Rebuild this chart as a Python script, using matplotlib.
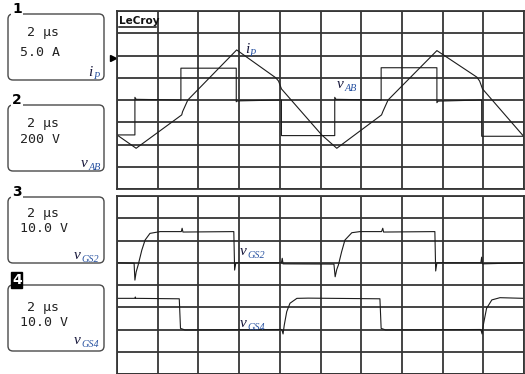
import matplotlib
matplotlib.use("Agg")
import matplotlib.pyplot as plt
from matplotlib.patches import FancyBboxPatch

# Screen coordinates in divisions: 10 across, 8 high per panel (2 us/div)
# ch1: primary current i_P (5 A/div)
ip_t = [0.00, 0.47, 1.59, 1.61, 1.74, 2.94, 3.90, 3.97, 4.04, 5.03,
        5.40, 6.50, 6.53, 6.66, 7.86, 8.84, 8.91, 8.98, 10.0]
ip_v = [2.43, 1.83, 3.33, 3.47, 4.00, 6.25, 5.00, 4.85, 4.50, 2.43,
        1.83, 3.33, 3.47, 4.00, 6.22, 5.03, 4.85, 4.50, 2.35]

# ch2: bridge voltage v_AB (200 V/div)
vab_t = [0.00, 0.44, 0.44, 0.47, 1.57, 1.57, 2.93, 2.93, 2.96, 4.04, 4.04,
         5.35, 5.35, 5.38, 6.49, 6.49, 7.86, 7.86, 7.89, 8.96, 8.96, 10.0]
vab_v = [2.43, 2.43, 4.12, 4.03, 4.00, 5.43, 5.43, 3.92, 3.96, 4.00, 2.40,
         2.40, 4.12, 4.03, 4.00, 5.45, 5.45, 3.88, 3.95, 4.00, 2.37, 2.37]

# ch3: gate voltage v_GS2 (10 V/div)
gs2_t = [0.00, 0.42, 0.44, 0.47, 0.52, 0.61, 0.69, 0.81, 1.06, 1.58, 1.60, 1.62,
         2.87, 2.89, 2.92, 4.04, 4.06, 4.08, 5.33, 5.36, 5.40, 5.44, 5.52, 5.60,
         5.77, 5.97, 6.50, 6.53, 6.55, 7.81, 7.83, 7.86, 8.94, 8.96, 8.98, 10.0]
gs2_v = [5.00, 4.98, 4.22, 4.58, 4.90, 5.57, 6.02, 6.32, 6.40, 6.40, 6.55, 6.38,
         6.40, 4.67, 5.00, 5.00, 5.20, 4.95, 4.94, 4.37, 4.70, 4.90, 5.50, 6.02,
         6.35, 6.40, 6.40, 6.55, 6.38, 6.40, 4.63, 5.00, 5.00, 5.25, 4.95, 5.00]

# ch4: gate voltage v_GS4 (10 V/div)
gs4_t = [0.00, 0.44, 0.45, 0.46, 1.53, 1.56, 1.67, 4.05, 4.08, 4.11, 4.17, 4.25,
         4.42, 4.70, 6.46, 6.49, 6.60, 8.94, 8.97, 9.00, 9.08, 9.21, 9.41, 10.0]
gs4_v = [3.40, 3.40, 3.46, 3.40, 3.38, 2.05, 1.98, 2.00, 1.80, 2.20, 2.80, 3.18,
         3.40, 3.41, 3.38, 2.05, 1.98, 2.00, 1.80, 2.20, 2.95, 3.33, 3.43, 3.40]

channels = ["1", "2", "3", "4"]
timebase = ["2 μs", "2 μs", "2 μs", "2 μs"]
scales = ["5.0 A", "200 V", "10.0 V", "10.0 V"]
names = [("i", "P"), ("v", "AB"), ("v", "GS2"), ("v", "GS4")]

W, H = 525, 374
fig = plt.figure(figsize=(W / 100, H / 100), dpi=100)

grid_color = "#363636"
trace_color = "#1c1c1c"
main_color = "#16163a"
sub_color = "#2a54a2"


def px_axes(x0, y0, x1, y1, **kw):
    return fig.add_axes([x0 / W, 1 - y1 / H, (x1 - x0) / W, (y1 - y0) / H], **kw)


def scope_panel(ax):
    ax.set_xlim(0, 10)
    ax.set_ylim(0, 8)
    ax.set_xticks(range(11))
    ax.set_yticks(range(9))
    ax.tick_params(length=0, labelbottom=False, labelleft=False)
    ax.grid(True, color=grid_color, lw=1.3)
    ax.set_axisbelow(True)
    for s in ax.spines.values():
        s.set_color(grid_color)
        s.set_linewidth(1.3)


def sub_label(ax, x, y, main, sub, size=11, transform=None):
    t = ax.text(x, y, main, fontsize=size, family="Liberation Serif",
                style="italic", color=main_color, va="baseline",
                transform=transform or ax.transData)
    ax.annotate(sub, xy=(1, 0), xycoords=t, xytext=(0.3, -1.5),
                textcoords="offset points", fontsize=size * 0.66,
                family="Liberation Serif", style="italic", color=sub_color,
                va="bottom", ha="left")


# left-hand channel readouts, drawn in pixel space
ov = fig.add_axes([0, 0, 1, 1])
ov.set_xlim(0, W)
ov.set_ylim(H, 0)
ov.axis("off")

box_tops = [14, 105, 197, 285]
box_h = 66
tb_y = [32, 123, 213, 308]
sc_y = [52, 139, 228, 322]
name_xy = [(88, 76), (81, 167), (74, 259), (74, 344)]
for i in range(4):
    ov.add_patch(FancyBboxPatch((8, box_tops[i]), 96, box_h,
                                boxstyle="round,pad=0,rounding_size=5",
                                ec="#4a4a4a", fc="white", lw=1.0))
    if channels[i] == "4":
        ov.text(12, box_tops[i] + 2, channels[i], fontsize=10, fontweight="bold",
                color="white", va="bottom", ha="left",
                bbox=dict(boxstyle="square,pad=0.05", fc="black", ec="black"))
    else:
        ov.text(12, box_tops[i] + 2, channels[i], fontsize=10, fontweight="bold",
                color="black", va="bottom", ha="left",
                bbox=dict(boxstyle="square,pad=0.1", fc="white", ec="none"))
    ov.text(27, tb_y[i], timebase[i], fontsize=9.5, family="DejaVu Sans Mono",
            va="center", ha="left", color="#222222")
    ov.text(20, sc_y[i], scales[i], fontsize=9.5, family="DejaVu Sans Mono",
            va="center", ha="left", color="#222222")
    sub_label(ov, name_xy[i][0], name_xy[i][1], names[i][0], names[i][1])

top = px_axes(117, 11, 524, 189)
bot = px_axes(117, 196, 524, 374)
scope_panel(top)
scope_panel(bot)

top.plot(vab_t, vab_v, color=trace_color, lw=0.8)
top.plot(ip_t, ip_v, color=trace_color, lw=0.8)
bot.plot(gs2_t, gs2_v, color=trace_color, lw=0.8)
bot.plot(gs4_t, gs4_v, color=trace_color, lw=0.8)

# channel 1 ground marker
top.plot([-0.1], [5.89], marker=">", color="black", ms=5, clip_on=False)

sub_label(top, 3.14, 6.11, "i", "P")
sub_label(top, 5.41, 4.54, "v", "AB")
sub_label(bot, 3.02, 5.35, "v", "GS2")
sub_label(bot, 3.02, 2.11, "v", "GS4")

# brand mark in the top-left cell
top.text(0.04, 7.40, "LeCroy", fontsize=7.5, fontweight="bold", color="#111111",
         va="baseline", ha="left")
top.plot([0.04, 0.96], [7.27, 7.27], color="#111111", lw=1.1)

fig.savefig("out.png", dpi=100, facecolor="white")
